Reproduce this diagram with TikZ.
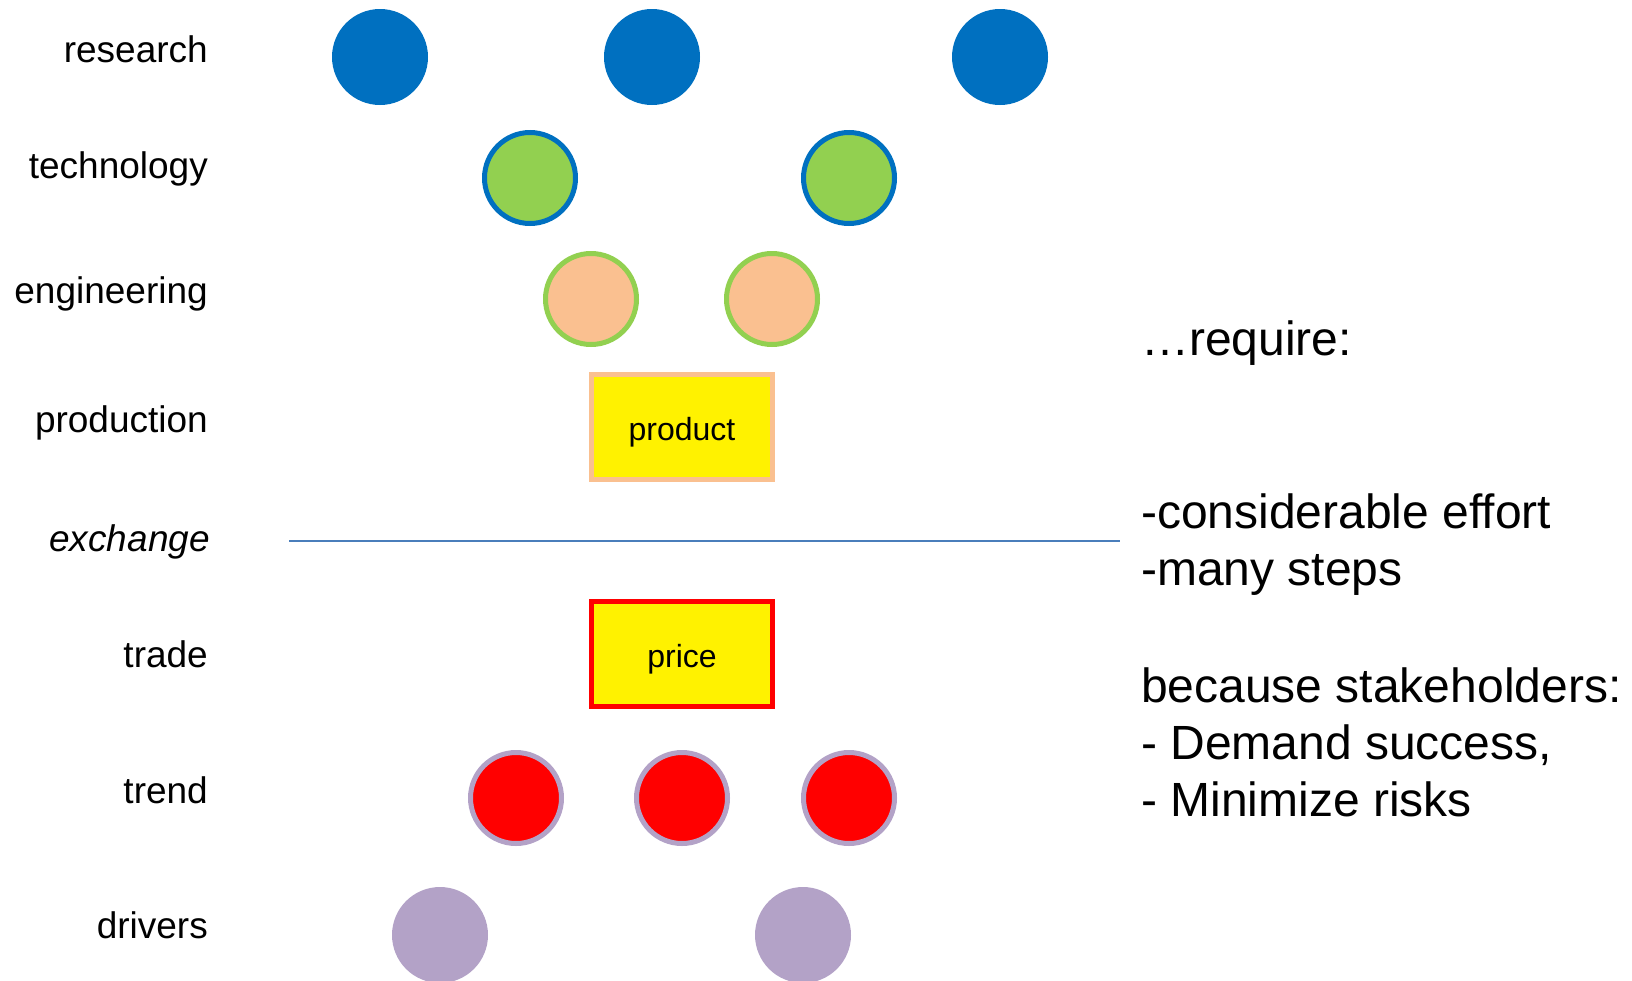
\documentclass[tikz,border=0pt]{standalone}
\usepackage{fontspec}
\setmainfont{Liberation Sans}
\definecolor{cblue}{HTML}{0070C0}
\definecolor{cgreen}{HTML}{92D050}
\definecolor{cpeach}{HTML}{FAC090}
\definecolor{clilac}{HTML}{B3A2C7}
\definecolor{cline}{HTML}{4A7EBB}
\begin{document}
\begin{tikzpicture}[x=1pt,y=-1pt,
  lbl/.style={anchor=base east,inner sep=0pt,font=\fontsize{37}{44}\selectfont},
  rtxt/.style={anchor=base west,inner sep=0pt,font=\fontsize{48}{56}\selectfont},
  dotplain/.style={circle,inner sep=0pt,minimum size=96pt},
  dotring/.style={circle,inner sep=0pt,minimum size=91pt,line width=5pt},
  res/.style={dotplain,fill=cblue},
  tech/.style={dotring,fill=cgreen,draw=cblue},
  eng/.style={dotring,fill=cpeach,draw=cgreen},
  trd/.style={dotring,fill=red,draw=clilac},
  drv/.style={dotplain,fill=clilac},
  box/.style={rectangle,inner sep=0pt,minimum width=181pt,minimum height=105pt,line width=5pt,fill=yellow,font=\fontsize{32}{38}\selectfont},
  boxtxt/.style={anchor=base,inner sep=0pt,font=\fontsize{32}{38}\selectfont}
]
\useasboundingbox (0,0) rectangle (1632,980);
\clip (0,0) rectangle (1632,980);
% labels
\node[lbl] (lres) at (208,62) {research};
\node[lbl] (ltech) at (208,178) {technology};
\node[lbl] (leng) at (208,303) {engineering};
\node[lbl] (lprod) at (208,432) {production};
\node[lbl,font=\fontsize{37}{44}\selectfont\itshape] (lexch) at (210,551) {exchange};
\node[lbl] (ltrade) at (208,667) {trade};
\node[lbl] (ltrend) at (208,803) {trend};
\node[lbl] (ldrv) at (208,938) {drivers};
% research
\node[res] (r1) at (380,57) {};
\node[res] (r2) at (652,57) {};
\node[res] (r3) at (1000,57) {};
% technology
\node[tech] (t1) at (530,178) {};
\node[tech] (t2) at (849,178) {};
% engineering
\node[eng] (e1) at (591,299) {};
\node[eng] (e2) at (772,299) {};
% product / price
\node[box,draw=cpeach] (prod) at (682,427) {};
\node[boxtxt] (prodt) at (682,440) {product};
\coordinate (xl) at (289,541);
\coordinate (xr) at (1120,541);
\draw[cline,line width=2pt] (xl) -- (xr);
\node[box,draw=red] (price) at (682,654) {};
\node[boxtxt] (pricet) at (682,667) {price};
% trend
\node[trd] (d1) at (516,798) {};
\node[trd] (d2) at (682,798) {};
\node[trd] (d3) at (849,798) {};
% drivers
\node[drv] (v1) at (440,935) {};
\node[drv] (v2) at (803,935) {};
% right text
\node[rtxt] (q1) at (1141,355) {\char"2026 require:};
\node[rtxt] (q2) at (1141,528) {-considerable effort};
\node[rtxt] (q3) at (1141,585) {-many steps};
\node[rtxt] (q4) at (1141,702) {because stakeholders:};
\node[rtxt] (q5) at (1141,759) {- Demand success,};
\node[rtxt] (q6) at (1141,816) {- Minimize risks};
\end{tikzpicture}
\end{document}
